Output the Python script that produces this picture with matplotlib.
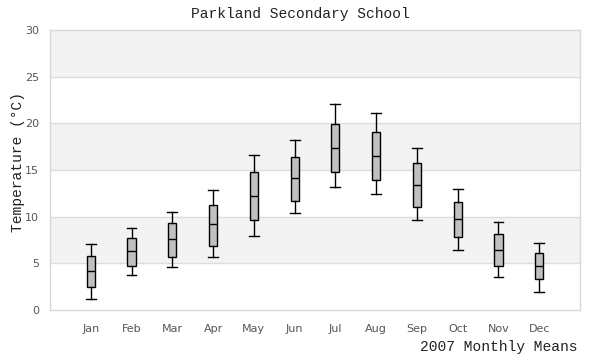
import matplotlib
matplotlib.use("Agg")
import matplotlib.pyplot as plt

months = ["Jan", "Feb", "Mar", "Apr", "May", "Jun", "Jul", "Aug", "Sep", "Oct", "Nov", "Dec"]
whisker_low = [1.15, 3.7, 4.6, 5.65, 7.9, 10.35, 13.15, 12.4, 9.6, 6.4, 3.5, 1.9]
q1 = [2.5, 4.75, 5.7, 6.9, 9.6, 11.7, 14.8, 13.9, 11.0, 7.8, 4.7, 3.3]
median = [4.15, 6.3, 7.6, 9.2, 12.2, 14.1, 17.35, 16.5, 13.4, 9.7, 6.4, 4.7]
q3 = [5.75, 7.75, 9.35, 11.3, 14.75, 16.35, 19.9, 19.05, 15.7, 11.55, 8.1, 6.1]
whisker_high = [7.1, 8.8, 10.5, 12.9, 16.65, 18.2, 22.1, 21.15, 17.4, 13.0, 9.4, 7.15]

title = "Parkland Secondary School"
ylabel = "Temperature (°C)"
xlabel = "2007 Monthly Means"

fig = plt.figure(figsize=(6, 3.6), dpi=100)
ax = fig.add_axes([50/600, 50/360, 530/600, 280/360])

stats = []
for i, m in enumerate(months):
    stats.append(dict(label=m, whislo=whisker_low[i], q1=q1[i], med=median[i],
                      q3=q3[i], whishi=whisker_high[i], fliers=[]))

positions = list(range(1, len(months) + 1))
ax.bxp(stats, positions=positions, widths=0.2, capwidths=0.24, patch_artist=True,
       boxprops=dict(facecolor="#c0c0c0", edgecolor="black", linewidth=1),
       medianprops=dict(color="black", linewidth=1),
       whiskerprops=dict(color="black", linewidth=1),
       capprops=dict(color="black", linewidth=1), zorder=3)

ax.set_xlim(0, 13)
ax.set_ylim(0, 30)
ax.set_yticks(range(0, 31, 5))
ax.set_xticks(positions)
ax.set_xticklabels(months)

# alternating bands
for lo in range(5, 30, 10):
    ax.axhspan(lo, lo + 5, color="#f3f3f3", zorder=0, lw=0)
for y in range(5, 30, 5):
    ax.axhline(y, color="#dddddd", lw=1, zorder=1)

for s in ax.spines.values():
    s.set_color("#d8d8d8")
    s.set_linewidth(1)

ax.tick_params(axis="both", length=0, labelsize=8, colors="#555555", pad=8)
ax.tick_params(axis="x", pad=10)

mono = "Liberation Mono"
fig.text(300/600, 1 - 14/360, title, ha="center", va="center", family=mono, fontsize=10.5, color="#222222")
fig.text(18/600, 1 - 162/360, ylabel, ha="center", va="center", rotation=90, family=mono, fontsize=10.5, color="#222222")
fig.text(578/600, 1 - 347/360, xlabel, ha="right", va="center", family=mono, fontsize=10.5, color="#222222")

fig.savefig("out.png", dpi=100)
